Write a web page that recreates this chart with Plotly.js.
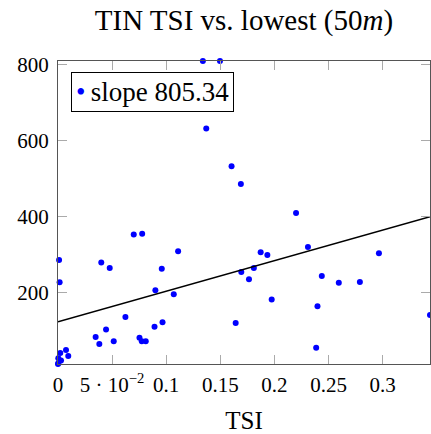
<!DOCTYPE html>
<html><head><meta charset="utf-8">
<script src="https://cdn.plot.ly/plotly-3.0.1.min.js"></script>
<style>html,body{margin:0;padding:0;background:#fff}</style>
</head><body><div id="chart" style="width:431px;height:434px"></div>
<script>
const tsi = [0.001,0.0015,0.0074,0.0021,0.0095,0.0003,0.0028,0.0003,0.0,0.0348,0.0382,0.0400,0.0444,0.0478,0.0515,0.0623,0.0700,0.0753,0.0774,0.0778,0.0811,0.0892,0.0900,0.0959,0.0966,0.1070,0.1110,0.1339,0.1370,0.1497,0.1604,0.1642,0.1690,0.1694,0.1765,0.1810,0.1873,0.1935,0.1975,0.2200,0.2310,0.2386,0.2398,0.2438,0.2595,0.2790,0.2966,0.3438];
const lowest = [286,227,49,41,33,27,21,14,12,83,65,279,103,265,72,136,353,81,72,355,72,110,206,263,122,196,309,810,632,810,533,120,486,254,235,265,306,299,182,410,320,55,164,244,226,228,304,141];
const fitX = [0, 0.3438];
const fitY = [123, 400];
const xTickVals = [0,0.05,0.1,0.15,0.2,0.25,0.3];
const xTickText = ['0','5 · 10<sup>−2</sup>','0.1','0.15','0.2','0.25','0.3'];
const yTickVals = [200,400,600,800];
const legendLabel = 'slope 805.34';

const font = '"Liberation Serif", "Times New Roman", serif';
const traces = [
  {x: tsi, y: lowest, type:'scatter', mode:'markers', name: legendLabel, showlegend:false,
   marker:{color:'#0000ff', size:6}, cliponaxis:false},
  {x: fitX, y: fitY, type:'scatter', mode:'lines', showlegend:false,
   line:{color:'#000', width:1.5}, cliponaxis:false}
];
const axisCommon = {showline:true, linecolor:'#555', linewidth:1, mirror:'ticks',
  ticks:'inside', ticklen:9, tickcolor:'#aaa', tickwidth:1, showgrid:false, zeroline:false,
  tickfont:{family:font, size:21, color:'#000'}};
const layout = {
  width:431, height:434,
  margin:{l:58, r:1, t:61, b:70},
  paper_bgcolor:'#fff', plot_bgcolor:'#fff',
  title:{text:'TIN TSI vs. lowest (50<i>m</i>)', font:{family:font, size:29, color:'#000'},
    x:0.566, xanchor:'center', y:0.955, yanchor:'middle'},
  xaxis:Object.assign({}, axisCommon, {range:[0,0.3438], tickvals:xTickVals, ticktext:xTickText,
    ticklabelstandoff:2,
    title:{text:'TSI', font:{family:font, size:25, color:'#000'}, standoff:16}}),
  yaxis:Object.assign({}, axisCommon, {range:[12,810], tickvals:yTickVals, ticklabelstandoff:4}),
  showlegend:false,
  annotations:[{xref:'paper', yref:'paper', x:(70.7-58)/372, y:1-(72-61)/303,
    xanchor:'left', yanchor:'top', showarrow:false, align:'left',
    text:'<span style="color:#0000ff">•</span>\u2009' + legendLabel,
    font:{family:font, size:27, color:'#000'},
    bordercolor:'#000', borderwidth:1, borderpad:4, bgcolor:'#fff'}]
};
Plotly.newPlot('chart', traces, layout, {staticPlot:true, displayModeBar:false});
</script></body></html>
